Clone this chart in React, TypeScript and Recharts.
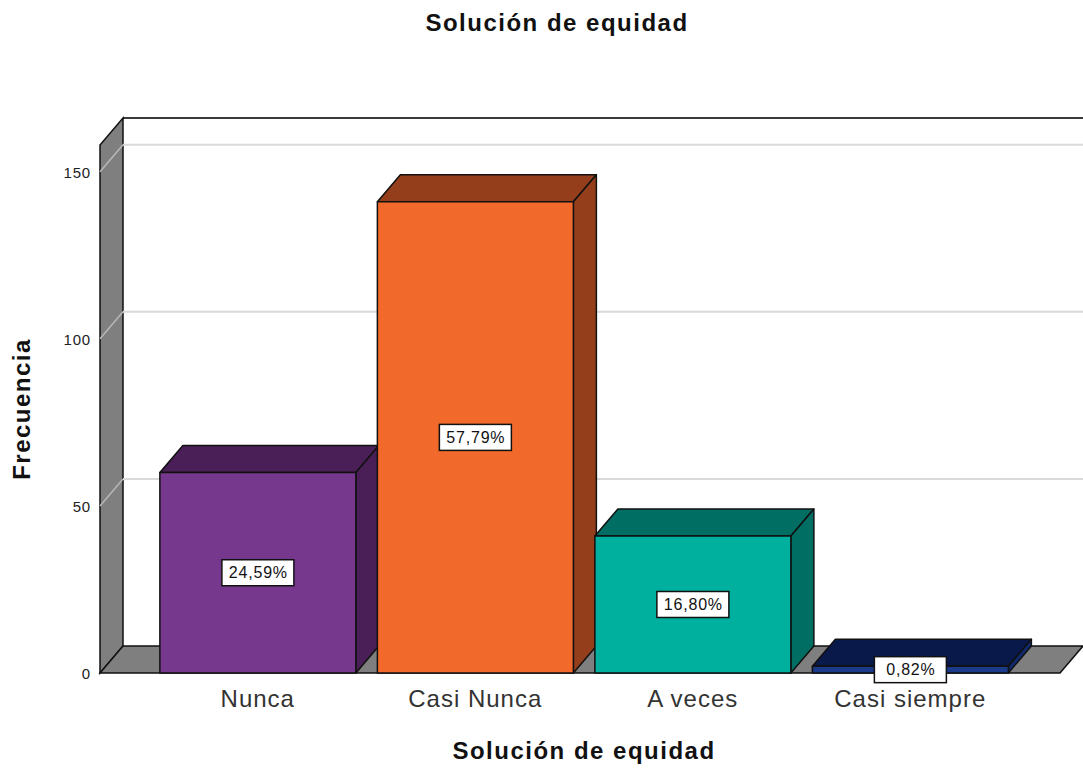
import { BarChart, Bar, XAxis, YAxis, ReferenceArea, ReferenceLine, LabelList } from "recharts";

const categories = ["Nunca", "Casi Nunca", "A veces", "Casi siempre"];
const counts = [60, 141, 41, 2];
const pctLabels = ["24,59%", "57,79%", "16,80%", "0,82%"];
const yTicks = [0, 50, 100, 150];
const gridValues = [50, 100, 150];
const yMax = 158;

const frontColors = ["#76388C", "#F2692C", "#00B09E", "#1B3A8A"];
const topColors = ["#4A1F57", "#953E1B", "#006E62", "#08194A"];
const sideColors = ["#4A1F57", "#953E1B", "#006E62", "#102A6E"];

// 3d depth offset and wall extension past the band range
const DX = 23;
const DY = -27;
const WALL_L = 49;
const WALL_R = 41;
const FONT = "'Liberation Sans', Arial, sans-serif";

const data = categories.map((name, i) => ({ name, value: counts[i], pct: pctLabels[i] }));

const Walls = (props: any) => {
  const { x, y, width, height } = props;
  const l = x - WALL_L;
  const r = x + width + WALL_R;
  const b = y + height;
  return (
    <g>
      <line x1={l + DX} y1={y + DY} x2={r + DX} y2={y + DY} stroke="#3a3a3a" strokeWidth={2} />
      <polygon
        points={`${l},${b} ${l},${y} ${l + DX},${y + DY} ${l + DX},${b + DY}`}
        fill="#7f7f7f"
        stroke="#111"
        strokeWidth={1.5}
      />
      <polygon
        points={`${l},${b} ${r},${b} ${r + DX},${b + DY} ${l + DX},${b + DY}`}
        fill="#7f7f7f"
        stroke="#111"
        strokeWidth={1.5}
      />
    </g>
  );
};

const GridLine = (props: any) => {
  const { x1, y1, x2 } = props;
  const l = x1 - WALL_L;
  const r = x2 + WALL_R;
  return (
    <g>
      <line x1={l} y1={y1} x2={l + DX} y2={y1 + DY} stroke="#b8b8b8" strokeWidth={1.5} />
      <line x1={l + DX} y1={y1 + DY} x2={r + DX} y2={y1 + DY} stroke="#d9d9d9" strokeWidth={2} />
    </g>
  );
};

const Bar3D = (props: any) => {
  const { x, y, width, height, index } = props;
  const w = width;
  const h = height;
  return (
    <g stroke="#111" strokeWidth={1.5} strokeLinejoin="round">
      <polygon
        points={`${x},${y} ${x + DX},${y + DY} ${x + w + DX},${y + DY} ${x + w},${y}`}
        fill={topColors[index]}
      />
      <polygon
        points={`${x + w},${y} ${x + w + DX},${y + DY} ${x + w + DX},${y + h + DY} ${x + w},${y + h}`}
        fill={sideColors[index]}
      />
      <rect x={x} y={y} width={w} height={h} fill={frontColors[index]} />
    </g>
  );
};

const PctLabel = (props: any) => {
  const { x, y, width, height, value } = props;
  const cx = x + width / 2;
  const cy = y + height / 2;
  return (
    <g>
      <rect x={cx - 36} y={cy - 13} width={72} height={26} fill="#fff" stroke="#111" strokeWidth={1.5} />
      <text
        x={cx + 0.5}
        y={cy + 1}
        textAnchor="middle"
        dominantBaseline="middle"
        fontSize={16}
        letterSpacing={0.8}
        fill="#111"
        fontFamily={FONT}
      >
        {value}
      </text>
    </g>
  );
};

const YTick = (props: any) => {
  const { x, y, payload } = props;
  return (
    <text
      x={x - 50}
      y={y + 2}
      textAnchor="end"
      dominantBaseline="middle"
      fontSize={15}
      letterSpacing={0.8}
      fill="#222"
      fontFamily={FONT}
    >
      {payload.value}
    </text>
  );
};

const XTick = (props: any) => {
  const { x, y, payload } = props;
  return (
    <text
      x={x}
      y={y + 20}
      textAnchor="middle"
      dominantBaseline="middle"
      fontSize={24}
      letterSpacing={1}
      fill="#333"
      fontFamily={FONT}
    >
      {payload.value}
    </text>
  );
};

const titleStyle = {
  position: "absolute" as const,
  left: 0,
  textAlign: "center" as const,
  fontSize: 24,
  letterSpacing: 1.5,
  fontWeight: "bold" as const,
  color: "#111",
};

const App = () => {
  return (
    <div style={{ position: "absolute", left: 0, top: 0, width: 1083, height: 771, background: "#fff", fontFamily: FONT }}>
      <div style={{ ...titleStyle, top: 9, width: 1114 }}>Solución de equidad</div>
      <div style={{ ...titleStyle, top: 737, width: 1168 }}>Solución de equidad</div>
      <div
        style={{
          ...titleStyle,
          left: 22,
          top: 409,
          transform: "translate(-50%, -50%) rotate(-90deg)",
          whiteSpace: "nowrap",
        }}
      >
        Frecuencia
      </div>
      <BarChart
        width={1083}
        height={771}
        data={data}
        margin={{ top: 145, right: 64, bottom: 38, left: 89 }}
        barCategoryGap="5%"
      >
        <ReferenceArea y1={0} y2={yMax} shape={Walls} ifOverflow="visible" zIndex={-20} />
        {gridValues.map((v) => (
          <ReferenceLine key={v} y={v} shape={GridLine} ifOverflow="visible" zIndex={-10} />
        ))}
        <XAxis dataKey="name" axisLine={false} tickLine={false} height={60} tick={<XTick />} interval={0} />
        <YAxis
          domain={[0, yMax]}
          ticks={yTicks}
          axisLine={false}
          tickLine={false}
          width={60}
          tick={<YTick />}
        />
        <Bar dataKey="value" shape={<Bar3D />} isAnimationActive={false}>
          <LabelList dataKey="pct" content={<PctLabel />} />
        </Bar>
      </BarChart>
    </div>
  );
};

export default App;
